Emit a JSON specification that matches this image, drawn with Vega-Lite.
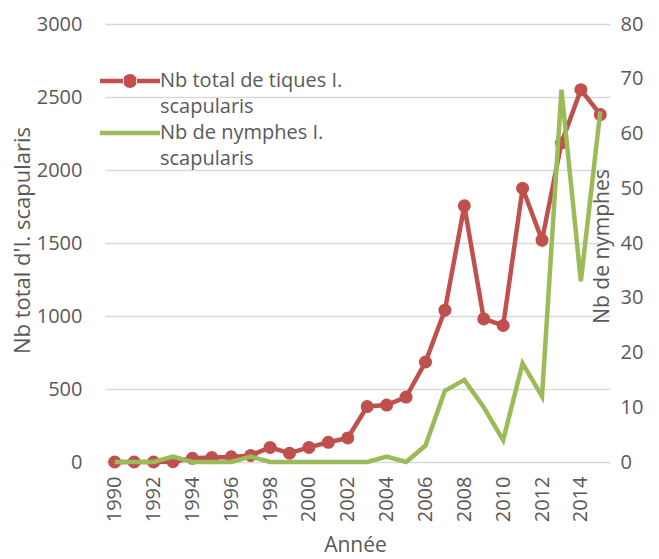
{
  "$schema": "https://vega.github.io/schema/vega-lite/v6.json",
  "width": 505,
  "height": 438,
  "autosize": {"type": "none"},
  "padding": {"left": 105, "top": 24, "right": 49, "bottom": 97},
  "config": {
    "view": {"stroke": null},
    "font": "Open Sans",
    "axis": {
      "labelColor": "#595959",
      "titleColor": "#595959",
      "titleFontWeight": "normal",
      "labelFont": "Open Sans",
      "titleFont": "Open Sans",
      "labelFontSize": 20,
      "titleFontSize": 21,
      "ticks": false,
      "domain": false
    }
  },
  "data": {
    "values": [
      {"year": 1990, "serie": "Nb total de tiques I. scapularis", "value": 0},
      {"year": 1991, "serie": "Nb total de tiques I. scapularis", "value": 0},
      {"year": 1992, "serie": "Nb total de tiques I. scapularis", "value": 0},
      {"year": 1993, "serie": "Nb total de tiques I. scapularis", "value": 2},
      {"year": 1994, "serie": "Nb total de tiques I. scapularis", "value": 25},
      {"year": 1995, "serie": "Nb total de tiques I. scapularis", "value": 30},
      {"year": 1996, "serie": "Nb total de tiques I. scapularis", "value": 35},
      {"year": 1997, "serie": "Nb total de tiques I. scapularis", "value": 45},
      {"year": 1998, "serie": "Nb total de tiques I. scapularis", "value": 100},
      {"year": 1999, "serie": "Nb total de tiques I. scapularis", "value": 60},
      {"year": 2000, "serie": "Nb total de tiques I. scapularis", "value": 100},
      {"year": 2001, "serie": "Nb total de tiques I. scapularis", "value": 135},
      {"year": 2002, "serie": "Nb total de tiques I. scapularis", "value": 165},
      {"year": 2003, "serie": "Nb total de tiques I. scapularis", "value": 380},
      {"year": 2004, "serie": "Nb total de tiques I. scapularis", "value": 390},
      {"year": 2005, "serie": "Nb total de tiques I. scapularis", "value": 445},
      {"year": 2006, "serie": "Nb total de tiques I. scapularis", "value": 685},
      {"year": 2007, "serie": "Nb total de tiques I. scapularis", "value": 1040},
      {"year": 2008, "serie": "Nb total de tiques I. scapularis", "value": 1755},
      {"year": 2009, "serie": "Nb total de tiques I. scapularis", "value": 980},
      {"year": 2010, "serie": "Nb total de tiques I. scapularis", "value": 935},
      {"year": 2011, "serie": "Nb total de tiques I. scapularis", "value": 1875},
      {"year": 2012, "serie": "Nb total de tiques I. scapularis", "value": 1520},
      {"year": 2013, "serie": "Nb total de tiques I. scapularis", "value": 2185},
      {"year": 2014, "serie": "Nb total de tiques I. scapularis", "value": 2550},
      {"year": 2015, "serie": "Nb total de tiques I. scapularis", "value": 2380},
      {"year": 1990, "serie": "Nb de nymphes I. scapularis", "value": 0},
      {"year": 1991, "serie": "Nb de nymphes I. scapularis", "value": 0},
      {"year": 1992, "serie": "Nb de nymphes I. scapularis", "value": 0},
      {"year": 1993, "serie": "Nb de nymphes I. scapularis", "value": 1},
      {"year": 1994, "serie": "Nb de nymphes I. scapularis", "value": 0},
      {"year": 1995, "serie": "Nb de nymphes I. scapularis", "value": 0},
      {"year": 1996, "serie": "Nb de nymphes I. scapularis", "value": 0},
      {"year": 1997, "serie": "Nb de nymphes I. scapularis", "value": 1},
      {"year": 1998, "serie": "Nb de nymphes I. scapularis", "value": 0},
      {"year": 1999, "serie": "Nb de nymphes I. scapularis", "value": 0},
      {"year": 2000, "serie": "Nb de nymphes I. scapularis", "value": 0},
      {"year": 2001, "serie": "Nb de nymphes I. scapularis", "value": 0},
      {"year": 2002, "serie": "Nb de nymphes I. scapularis", "value": 0},
      {"year": 2003, "serie": "Nb de nymphes I. scapularis", "value": 0},
      {"year": 2004, "serie": "Nb de nymphes I. scapularis", "value": 1},
      {"year": 2005, "serie": "Nb de nymphes I. scapularis", "value": 0},
      {"year": 2006, "serie": "Nb de nymphes I. scapularis", "value": 3},
      {"year": 2007, "serie": "Nb de nymphes I. scapularis", "value": 13},
      {"year": 2008, "serie": "Nb de nymphes I. scapularis", "value": 15},
      {"year": 2009, "serie": "Nb de nymphes I. scapularis", "value": 10},
      {"year": 2010, "serie": "Nb de nymphes I. scapularis", "value": 4},
      {"year": 2011, "serie": "Nb de nymphes I. scapularis", "value": 18},
      {"year": 2012, "serie": "Nb de nymphes I. scapularis", "value": 12},
      {"year": 2013, "serie": "Nb de nymphes I. scapularis", "value": 68},
      {"year": 2014, "serie": "Nb de nymphes I. scapularis", "value": 33},
      {"year": 2015, "serie": "Nb de nymphes I. scapularis", "value": 64}
    ]
  },
  "encoding": {
    "x": {
      "field": "year",
      "type": "quantitative",
      "scale": {"domain": [1989.5, 2015.5], "nice": false, "zero": false},
      "axis": {
        "values": [1990, 1992, 1994, 1996, 1998, 2000, 2002, 2004, 2006, 2008, 2010, 2012, 2014],
        "format": "d",
        "labelAngle": -90,
        "labelPadding": 14,
        "grid": false,
        "title": "Année",
        "titleX": 250,
        "titleY": 83,
        "titleFontSize": 21,
        "titleBaseline": "middle",
        "titleAlign": "center"
      }
    }
  },
  "layer": [
    {
      "transform": [{"filter": "datum.serie == 'Nb total de tiques I. scapularis'"}],
      "mark": {"type": "line", "strokeWidth": 4.5, "point": {"size": 170, "filled": true, "opacity": 1}},
      "encoding": {
        "y": {
          "field": "value",
          "type": "quantitative",
          "scale": {"domain": [0, 3000], "nice": false},
          "axis": {
            "values": [0, 500, 1000, 1500, 2000, 2500, 3000],
            "format": "d",
            "grid": true,
            "gridColor": "#d9d9d9",
            "gridWidth": 1.5,
            "labelPadding": 23,
            "title": "Nb total d'I. scapularis",
            "titleFontSize": 22,
            "titleAngle": 270,
            "titleX": -83,
            "titleY": 216,
            "titleAlign": "center",
            "titleBaseline": "middle"
          }
        },
        "color": {
          "field": "serie",
          "type": "nominal",
          "scale": {
            "domain": ["Nb total de tiques I. scapularis", "Nb de nymphes I. scapularis"],
            "range": ["#c0504d", "#9bbb59"]
          },
          "legend": {
            "orient": "none",
            "legendX": -5,
            "legendY": 47,
            "title": null,
            "padding": 0,
            "symbolSize": 400,
            "symbolOffset": 20,
            "symbolStrokeWidth": 0,
            "labelOffset": 20,
            "labelFont": "Open Sans",
            "labelFontSize": 20,
            "labelColor": "#595959",
            "labelLimit": 0,
            "rowPadding": 6,
            "labelExpr": "split(replace(datum.label, ' scapularis', '|scapularis'), '|')",
            "encode": {
              "symbols": {
                "update": {
                  "shape": {"signal": "datum.value == 'Nb total de tiques I. scapularis' ? 'M-3,-0.225H-0.6V0.225H-3Z M0.6,-0.225H3V0.225H0.6Z M-0.7,0A0.7,0.7 0 1,0 0.7,0A0.7,0.7 0 1,0 -0.7,0Z' : 'M-3,-0.225H3V0.225H-3Z'"},
                  "fill": {"signal": "datum.value == 'Nb total de tiques I. scapularis' ? '#c0504d' : '#9bbb59'"},
                  "stroke": {"value": "transparent"}
                }
              },
              "labels": {
                "update": {
                  "lineHeight": {"value": 26}
                }
              }
            }
          }
        }
      }
    },
    {
      "transform": [{"filter": "datum.serie == 'Nb de nymphes I. scapularis'"}],
      "mark": {"type": "line", "strokeWidth": 4.5},
      "encoding": {
        "y": {
          "field": "value",
          "type": "quantitative",
          "scale": {"domain": [0, 80], "nice": false},
          "axis": {
            "orient": "right",
            "values": [0, 10, 20, 30, 40, 50, 60, 70, 80],
            "grid": false,
            "labelPadding": 10,
            "title": "Nb de nymphes",
            "titleAngle": 270,
            "titleX": -8,
            "titleY": 222,
            "titleAlign": "center",
            "titleBaseline": "middle"
          }
        },
        "color": {"field": "serie", "type": "nominal"}
      }
    }
  ],
  "resolve": {"scale": {"y": "independent"}}
}
